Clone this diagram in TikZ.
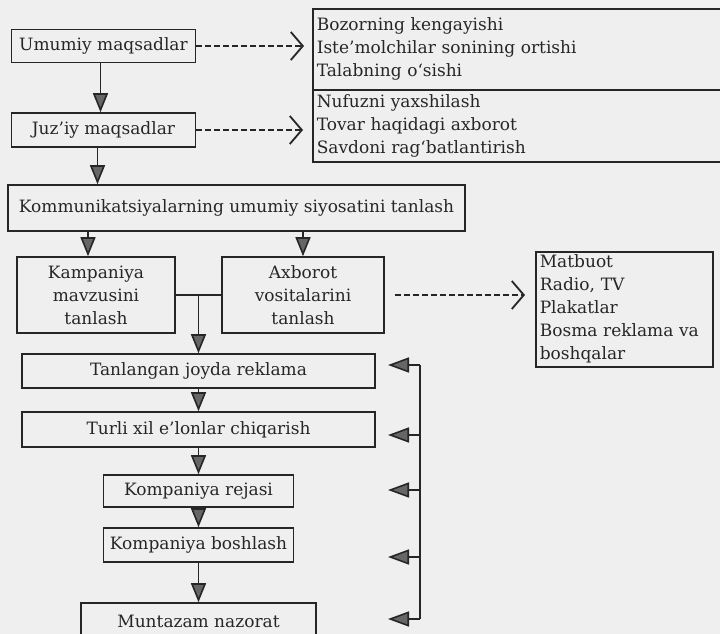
\documentclass[tikz,border=0pt]{standalone}
\usepackage{fontspec}
\setmainfont{DejaVu Serif}
\usetikzlibrary{arrows.meta,calc}
\definecolor{bg}{HTML}{EFEFEF}
\definecolor{ink}{HTML}{262626}
\definecolor{headc}{HTML}{666666}
\begin{document}
\begin{tikzpicture}[x=1pt,y=-1pt,
  box/.style={draw=ink,line width=1.6pt,inner sep=0pt,align=center,text=ink,
    font=\fontsize{17}{23}\selectfont},
  lbox/.style={box,align=left,anchor=north west,inner xsep=4pt},
  conn/.style={draw=ink,line width=1.6pt},
  arr/.style={conn,-{Triangle[length=19pt,width=15pt,fill=headc]}},
  fbarr/.style={conn,-{Triangle[length=21pt,width=15pt,fill=headc]}},
  dsh/.style={conn,dash pattern=on 6pt off 3pt,-{Straight Barb[length=12pt,width=28pt,line width=1.8pt]}}]
\useasboundingbox (0,0) rectangle (720,634);
\fill[bg] (0,0) rectangle (720,634);
\clip (0,0) rectangle (720,634);

% top goals
\node[box,minimum width=184pt,minimum height=33pt] (um) at (103.5,46) {Umumiy maqsadlar};
\node[box,minimum width=184pt,minimum height=34pt] (juz) at (103.5,130) {Juz'iy maqsadlar};
\node[lbox,text width=422pt,minimum height=81pt] (r1) at (312,8)
  {Bozorning kengayishi\\Iste'molchilar sonining ortishi\\Talabning o`sishi};
\node[lbox,text width=422pt,minimum height=72pt] (r2) at (312,89)
  {Nufuzni yaxshilash\\Tovar haqidagi axborot\\Savdoni rag`batlantirish};

\coordinate (t1) at (304,46);
\coordinate (t2) at (303,130);
\draw[dsh] (um.east) -- (t1);
\draw[dsh] (juz.east) -- (t2);
\draw[arr] ([xshift=-3pt]um.south) -- ([xshift=-3pt]juz.north);

% communication policy
\node[box,minimum width=457pt,minimum height=46pt] (kom) at (236.5,208)
  {Kommunikatsiyalarning umumiy siyosatini tanlash};
\draw[arr] ([xshift=-6pt]juz.south) -- ([xshift=-6pt]juz.south |- kom.north);

\node[box,minimum width=158pt,minimum height=76pt] (kamp) at (96,295)
  {Kampaniya\\mavzusini\\tanlash};
\node[box,minimum width=162pt,minimum height=76pt] (axb) at (303,295)
  {Axborot\\vositalarini\\tanlash};
\draw[arr] ([xshift=-8pt]kamp.north |- kom.south) -- ([xshift=-8pt]kamp.north);
\draw[arr] (axb.north |- kom.south) -- (axb.north);

\node[lbox,text width=169pt,minimum height=115pt] (mat) at (535,251)
  {Matbuot\\Radio, TV\\Plakatlar\\Bosma reklama va\\boshqalar};
\coordinate (t3) at (525,295);
\draw[dsh] ([xshift=10pt]axb.east) -- (t3);

% campaign chain
\node[box,minimum width=353pt,minimum height=34pt] (tan) at (198.5,371) {Tanlangan joyda reklama};
\node[box,minimum width=353pt,minimum height=35pt] (tur) at (198.5,429.5) {Turli xil e'lonlar chiqarish};
\node[box,minimum width=190pt,minimum height=32pt] (rej) at (198.5,491) {Kompaniya rejasi};
\node[box,minimum width=190pt,minimum height=34pt] (bos) at (198.5,545) {Kompaniya boshlash};
\node[box,minimum width=235pt,minimum height=36pt] (mun) at (198.5,621) {Muntazam nazorat};

\draw[conn] (kamp.east) -- (axb.west);
\coordinate (j) at ($(kamp.east)!0.5!(axb.west)$);
\draw[arr] (j) -- (j |- tan.north);
\draw[arr] (tan) -- (tur);
\draw[arr] (tur) -- (rej);
\draw[arr] (rej) -- (bos);
\draw[arr] (bos) -- (mun);

% feedback line
\coordinate (v1) at (420,365);
\coordinate (v2) at (420,435);
\coordinate (v3) at (420,490);
\coordinate (v4) at (420,557);
\coordinate (v5) at (420,619);
\draw[conn] (v1) -- (v5);
\foreach \i/\yy in {1/365,2/435,3/490,4/557,5/619}{
  \coordinate (f\i) at (388,\yy);
  \draw[fbarr] (v\i) -- (f\i);
}
\end{tikzpicture}
\end{document}
